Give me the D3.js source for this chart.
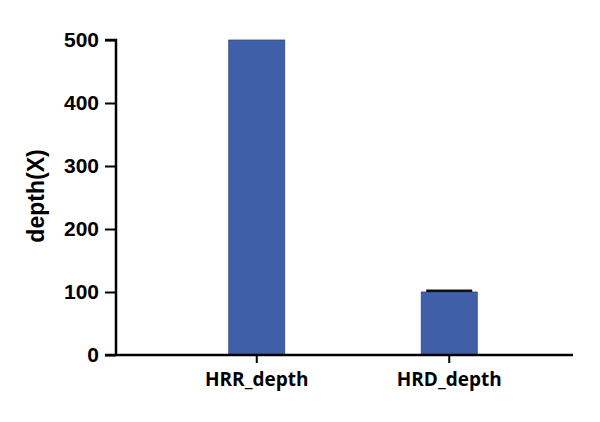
<!DOCTYPE html>
<html>
<head>
<meta charset="utf-8">
<script src="https://cdn.jsdelivr.net/npm/d3@7"></script>
<style>
  body { margin: 0; background: #fff; }
</style>
</head>
<body>
<div class="chart"></div>
<script>
const categories = ["HRR_depth", "HRD_depth"];
const values = [500, 100];
const errors = [0, 2];
const yTicks = [0, 100, 200, 300, 400, 500];

const data = categories.map((c, i) => ({ name: c, value: values[i], err: errors[i] }));

const margin = ({ left: 116, right: 27, top: 40, bottom: 67 });
const width = 600 - margin.left - margin.right,
    height = 422 - margin.top - margin.bottom;

const svg = d3.select(".chart").append("svg")
    .attr("width", 600)
    .attr("height", 422)

const g = svg.append("g")
    .attr("transform", "translate(" + margin.left + "," + margin.top + ")");

const xScale = d3.scaleBand()
    .domain(categories)
    .range([55, 419])
    .paddingInner(0.709)
    .paddingOuter(0.3)

const yScale = d3.scaleLinear()
    .domain([0, 500])
    .range([height, 0])

// bars
g.selectAll("rect.bar")
    .data(data)
    .enter()
    .append("rect")
    .attr("class", "bar")
    .attr("x", d => xScale(d.name))
    .attr("y", d => yScale(d.value))
    .attr("width", xScale.bandwidth())
    .attr("height", d => height - yScale(d.value))
    .attr("fill", "#3f5fa9")
    .attr("stroke", "#2f4a8a")
    .attr("stroke-width", 0.8)

// error caps
g.selectAll("line.err")
    .data(data.filter(d => d.err > 0))
    .enter()
    .append("line")
    .attr("class", "err")
    .attr("x1", d => xScale(d.name) + 5)
    .attr("x2", d => xScale(d.name) + xScale.bandwidth() - 5)
    .attr("y1", d => yScale(d.value + d.err))
    .attr("y2", d => yScale(d.value + d.err))
    .attr("stroke", "#111")
    .attr("stroke-width", 2.5)

const yAxis = d3.axisLeft()
    .scale(yScale)
    .tickValues(yTicks)
    .tickSize(11)
    .tickPadding(6)

g.append("g")
    .attr("class", "axis y-axis")
    .call(yAxis)
    .call(g => g.select(".domain").attr("stroke-width", 2.5).attr("d", `M0,${height}V0H-11`))
    .call(g => g.selectAll(".tick line").attr("stroke-width", 2))
    .call(g => g.selectAll(".tick text")
        .attr("font-family", "Liberation Sans, Arial, sans-serif")
        .attr("font-weight", "bold")
        .attr("font-size", 21)
        .attr("fill", "#000"))

const xAxis = d3.axisBottom()
    .scale(xScale)
    .tickSize(8)
    .tickPadding(10)

g.append("g")
    .attr("class", "axis x-axis")
    .attr("transform", `translate(0, ${height})`)
    .call(xAxis)
    .call(g => g.select(".domain").attr("stroke-width", 2.5).attr("d", `M-11,0H${width}`))
    .call(g => g.selectAll(".tick line").attr("stroke-width", 2))
    .call(g => g.selectAll(".tick text")
        .attr("font-family", "Open Sans, sans-serif")
        .attr("font-weight", "bold")
        .attr("font-size", 19)
        .attr("fill", "#000"))

svg.append("text")
    .attr("transform", "translate(44,196) rotate(-90)")
    .attr("text-anchor", "middle")
    .attr("font-family", "Liberation Sans, Arial, sans-serif")
    .attr("font-weight", "bold")
    .attr("font-size", 23)
    .text("depth(X)")
</script>
</body>
</html>
